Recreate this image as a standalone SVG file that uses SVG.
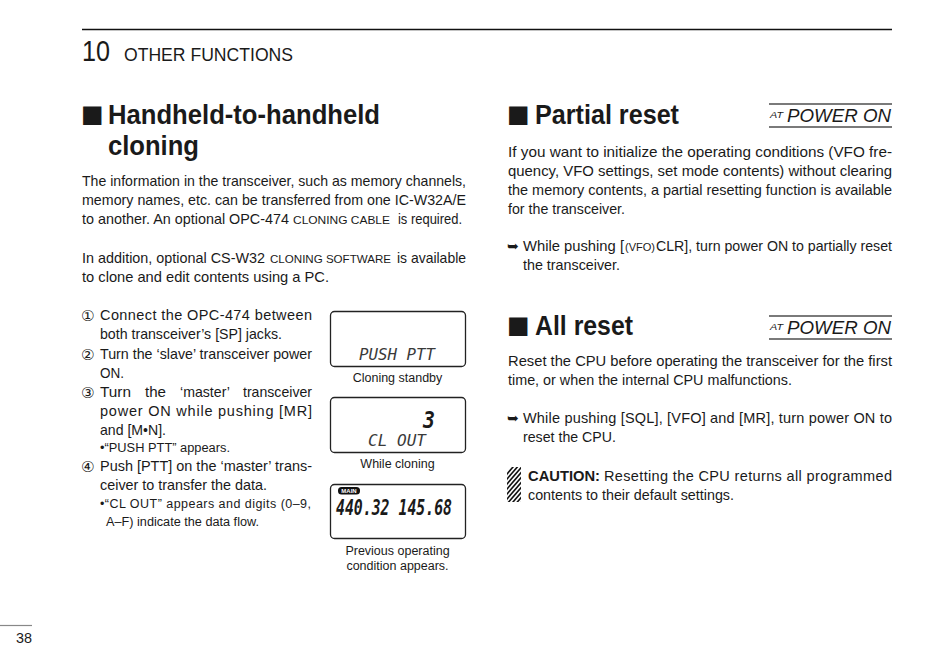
<svg xmlns="http://www.w3.org/2000/svg" width="950" height="669" viewBox="0 0 950 669">
<defs>
  <clipPath id="hatchClip">
    <rect x="507" y="467" width="14" height="35"/>
  </clipPath>
</defs>
<style>
  text { font-family: "Liberation Sans", Arial, sans-serif; fill: #1a1a1a; }
  .body { font-size: 14.5px; }
  .sc { font-size: 10.5px; }
  .small { font-size: 12.5px; }
  .cap { font-size: 12.5px; }
  .title { font-size: 27px; font-weight: bold; }
  .sq { font-family: "DejaVu Sans", sans-serif; font-size: 24px; }
  .num { font-family: "DejaVu Sans", sans-serif; font-size: 15px; }
  .arrow { font-family: "DejaVu Sans", sans-serif; font-size: 14px; font-weight: bold; }
  .lcd { font-family: "DejaVu Sans Mono", monospace; font-style: italic; }
  .lcdbox { fill: #fff; stroke: #222; stroke-width: 1.3; }
  .rule { stroke: #7a7a7a; stroke-width: 1.8; }
  .at { font-size: 9.5px; }
  .pw { font-size: 18px; font-style: italic; }
</style>

<g id="header">
  <line x1="82" y1="29.5" x2="892" y2="29.5" stroke="#111" stroke-width="1.5"/>
  <text x="82" y="61" font-size="30" textLength="28" lengthAdjust="spacingAndGlyphs">10</text>
  <text x="124" y="61" font-size="17.5" textLength="169" lengthAdjust="spacingAndGlyphs">OTHER FUNCTIONS</text>
</g>

<g id="page-number">
  <line x1="0" y1="625.5" x2="32" y2="625.5" stroke="#888" stroke-width="1.2"/>
  <text x="16" y="643" font-size="14" textLength="16" lengthAdjust="spacingAndGlyphs">38</text>
</g>

<g id="cloning-section">
  <text class="sq" x="81" y="121.5">■</text>
  <text class="title" x="108" y="124" textLength="272" lengthAdjust="spacingAndGlyphs">Handheld-to-handheld</text>
  <text class="title" x="108" y="155" textLength="91" lengthAdjust="spacingAndGlyphs">cloning</text>

  <text class="body" x="82" y="186" textLength="384" lengthAdjust="spacingAndGlyphs">The information in the transceiver, such as memory channels,</text>
  <text class="body" x="82" y="205" textLength="384" lengthAdjust="spacingAndGlyphs">memory names, etc. can be transferred from one IC-W32A/E</text>
  <text class="body" x="82" y="224" textLength="207" lengthAdjust="spacingAndGlyphs">to another. An optional OPC-474</text>
  <text class="sc" x="293" y="224" textLength="97" lengthAdjust="spacingAndGlyphs">CLONING CABLE</text>
  <text class="body" x="398" y="224" textLength="64" lengthAdjust="spacingAndGlyphs">is required.</text>

  <text class="body" x="82" y="263" textLength="183" lengthAdjust="spacingAndGlyphs">In addition, optional CS-W32</text>
  <text class="sc" x="270" y="263" textLength="121" lengthAdjust="spacingAndGlyphs">CLONING SOFTWARE</text>
  <text class="body" x="397" y="263" textLength="69" lengthAdjust="spacingAndGlyphs">is available</text>
  <text class="body" x="82" y="282" textLength="247" lengthAdjust="spacingAndGlyphs">to clone and edit contents using a PC.</text>

  <text class="num" x="81" y="321">①</text>
  <text class="body" x="100" y="320" textLength="212" lengthAdjust="spacing">Connect the OPC-474 between</text>
  <text class="body" x="100" y="339" textLength="182" lengthAdjust="spacingAndGlyphs">both transceiver’s [SP] jacks.</text>
  <text class="num" x="81" y="360">②</text>
  <text class="body" x="100" y="359" textLength="212" lengthAdjust="spacingAndGlyphs">Turn the ‘slave’ transceiver power</text>
  <text class="body" x="100" y="378" textLength="24" lengthAdjust="spacingAndGlyphs">ON.</text>
  <text class="num" x="81" y="398">③</text>
  <text class="body" x="100" y="397" textLength="31" lengthAdjust="spacingAndGlyphs">Turn</text>
  <text class="body" x="145" y="397" textLength="21" lengthAdjust="spacingAndGlyphs">the</text>
  <text class="body" x="180" y="397" textLength="50" lengthAdjust="spacingAndGlyphs">‘master’</text>
  <text class="body" x="243" y="397" textLength="69" lengthAdjust="spacingAndGlyphs">transceiver</text>
  <text class="body" x="100" y="416" textLength="212" lengthAdjust="spacing">power ON while pushing [MR]</text>
  <text class="body" x="100" y="435" textLength="66" lengthAdjust="spacingAndGlyphs">and [M•N].</text>
  <text class="small" x="100" y="452" textLength="130" lengthAdjust="spacingAndGlyphs">•“PUSH PTT” appears.</text>
  <text class="num" x="81" y="472">④</text>
  <text class="body" x="100" y="471" textLength="212" lengthAdjust="spacingAndGlyphs">Push [PTT] on the ‘master’ trans-</text>
  <text class="body" x="100" y="490" textLength="167" lengthAdjust="spacingAndGlyphs">ceiver to transfer the data.</text>
  <text class="small" x="100" y="508" textLength="211" lengthAdjust="spacing">•“CL OUT” appears and digits (0–9,</text>
  <text class="small" x="106" y="526" textLength="153" lengthAdjust="spacingAndGlyphs">A–F) indicate the data flow.</text>
</g>

<g id="lcd-standby">
  <rect class="lcdbox" x="330.5" y="311.5" width="135" height="55" rx="4"/>
  <text class="lcd" x="359" y="360" font-size="15" textLength="76" lengthAdjust="spacingAndGlyphs" style="fill:#3a3a3a">PUSH PTT</text>
  <text class="cap" x="397.5" y="382" text-anchor="middle">Cloning standby</text>
</g>

<g id="lcd-cloning">
  <rect class="lcdbox" x="330.5" y="397.5" width="135" height="55" rx="4"/>
  <text class="lcd" x="423" y="428" font-size="23" font-weight="bold" textLength="12" lengthAdjust="spacingAndGlyphs">3</text>
  <text class="lcd" x="368" y="446" font-size="15" textLength="58" lengthAdjust="spacingAndGlyphs" style="fill:#3a3a3a">CL OUT</text>
  <text class="cap" x="397.5" y="468" text-anchor="middle">While cloning</text>
</g>

<g id="lcd-previous">
  <rect class="lcdbox" x="330.5" y="484.5" width="135" height="54" rx="4"/>
  <rect x="338" y="487" width="22" height="7.5" rx="3.5" fill="#111"/>
  <text x="349" y="493.2" font-size="6" font-weight="bold" text-anchor="middle" style="fill:#fff">MAIN</text>
  <text class="lcd" x="336" y="515" font-size="22" font-weight="bold" textLength="116" lengthAdjust="spacingAndGlyphs">440.32 145.68</text>
  <text class="cap" x="397.5" y="555" text-anchor="middle">Previous operating</text>
  <text class="cap" x="397.5" y="570" text-anchor="middle">condition appears.</text>
</g>

<g id="partial-reset">
  <text class="sq" x="507" y="121.5">■</text>
  <text class="title" x="535" y="124" textLength="144" lengthAdjust="spacingAndGlyphs">Partial reset</text>
  <g id="at-power-on-1">
    <line class="rule" x1="769" y1="104" x2="892" y2="104"/>
    <line class="rule" x1="769" y1="127" x2="892" y2="127"/>
    <text class="at" x="770" y="118" font-style="italic" textLength="13" lengthAdjust="spacingAndGlyphs">AT</text>
    <text class="pw" x="787" y="122" textLength="104" lengthAdjust="spacingAndGlyphs">POWER ON</text>
  </g>
  <text class="body" x="508" y="157" textLength="384" lengthAdjust="spacingAndGlyphs">If you want to initialize the operating conditions (VFO fre-</text>
  <text class="body" x="508" y="176" textLength="384" lengthAdjust="spacingAndGlyphs">quency, VFO settings, set mode contents) without clearing</text>
  <text class="body" x="508" y="195" textLength="384" lengthAdjust="spacingAndGlyphs">the memory contents, a partial resetting function is available</text>
  <text class="body" x="508" y="214" textLength="117" lengthAdjust="spacingAndGlyphs">for the transceiver.</text>
  <text class="arrow" x="507" y="251">➥</text>
  <text class="body" x="523" y="251" textLength="101" lengthAdjust="spacingAndGlyphs">While pushing [</text>
  <text class="sc" x="625" y="251" textLength="30" lengthAdjust="spacingAndGlyphs">(VFO)</text>
  <text class="body" x="656" y="251" textLength="236" lengthAdjust="spacingAndGlyphs">CLR], turn power ON to partially reset</text>
  <text class="body" x="523" y="270" textLength="97" lengthAdjust="spacingAndGlyphs">the transceiver.</text>
</g>

<g id="all-reset">
  <text class="sq" x="507" y="332.5">■</text>
  <text class="title" x="535" y="335" textLength="98" lengthAdjust="spacingAndGlyphs">All reset</text>
  <g id="at-power-on-2">
    <line class="rule" x1="769" y1="316" x2="892" y2="316"/>
    <line class="rule" x1="769" y1="339" x2="892" y2="339"/>
    <text class="at" x="770" y="330" font-style="italic" textLength="13" lengthAdjust="spacingAndGlyphs">AT</text>
    <text class="pw" x="787" y="334" textLength="104" lengthAdjust="spacingAndGlyphs">POWER ON</text>
  </g>
  <text class="body" x="508" y="366" textLength="384" lengthAdjust="spacingAndGlyphs">Reset the CPU before operating the transceiver for the first</text>
  <text class="body" x="508" y="385" textLength="284" lengthAdjust="spacingAndGlyphs">time, or when the internal CPU malfunctions.</text>
  <text class="arrow" x="507" y="423">➥</text>
  <text class="body" x="523" y="423" textLength="369" lengthAdjust="spacing">While pushing [SQL], [VFO] and [MR], turn power ON to</text>
  <text class="body" x="523" y="442" textLength="93" lengthAdjust="spacingAndGlyphs">reset the CPU.</text>

  <g id="caution-icon" clip-path="url(#hatchClip)" stroke="#111" stroke-width="1.6">
    <line x1="500" y1="482" x2="526" y2="452"/>
    <line x1="500" y1="487" x2="526" y2="457"/>
    <line x1="500" y1="492" x2="526" y2="462"/>
    <line x1="500" y1="497" x2="526" y2="467"/>
    <line x1="500" y1="502" x2="526" y2="472"/>
    <line x1="500" y1="507" x2="526" y2="477"/>
    <line x1="500" y1="512" x2="526" y2="482"/>
    <line x1="500" y1="517" x2="526" y2="487"/>
    <line x1="500" y1="522" x2="526" y2="492"/>
    <line x1="500" y1="527" x2="526" y2="497"/>
  </g>
  <text class="body" x="528" y="481" font-weight="bold" textLength="72" lengthAdjust="spacingAndGlyphs">CAUTION:</text>
  <text class="body" x="604" y="481" textLength="288" lengthAdjust="spacing">Resetting the CPU returns all programmed</text>
  <text class="body" x="528" y="500" textLength="206" lengthAdjust="spacingAndGlyphs">contents to their default settings.</text>
</g>
</svg>
